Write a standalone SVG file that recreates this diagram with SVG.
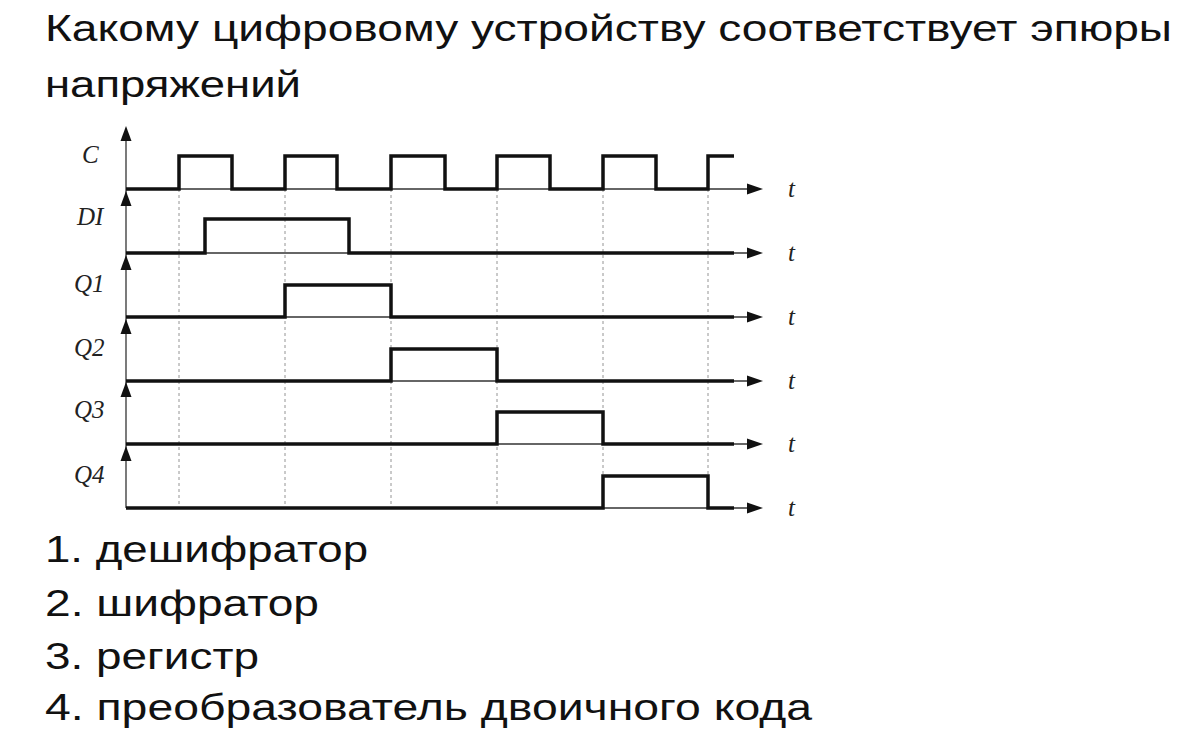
<svg xmlns="http://www.w3.org/2000/svg" width="1203" height="738" viewBox="0 0 1203 738">
<style>
.txt{font-family:"Liberation Sans",Arial,sans-serif;font-size:37px;fill:#111}
.lbl{font-family:"Liberation Serif","Times New Roman",serif;font-style:italic;font-size:25px;fill:#222}
.sig{fill:none;stroke:#111;stroke-width:3.5;stroke-linejoin:miter;stroke-linecap:butt}
.ax{fill:none;stroke:#333;stroke-width:1.3}
.dash{fill:none;stroke:#888;stroke-width:0.9;stroke-dasharray:3 3}
.ah{fill:#111}
</style>
<defs>
<polygon id="ahr" points="0,0 -16,-5.5 -16,5.5"/>
<polygon id="ahu" points="0,0 -5.5,15 5.5,15"/>
</defs>
<rect width="1203" height="738" fill="#fff"/>
<g id="title">
<text class="txt" x="45" y="41" textLength="1127" lengthAdjust="spacingAndGlyphs">Какому цифровому устройству соответствует эпюры</text>
<text class="txt" x="45" y="97" textLength="256" lengthAdjust="spacingAndGlyphs">напряжений</text>
</g>
<g id="grid">
<line class="dash" x1="179" y1="189" x2="179" y2="508"/>
<line class="dash" x1="285" y1="189" x2="285" y2="508"/>
<line class="dash" x1="391" y1="189" x2="391" y2="508"/>
<line class="dash" x1="497" y1="189" x2="497" y2="508"/>
<line class="dash" x1="603" y1="189" x2="603" y2="508"/>
<line class="dash" x1="708" y1="189" x2="708" y2="508"/>
</g>
<g id="axes">
<line class="ax" x1="126" y1="130" x2="126" y2="508"/>
<use href="#ahu" class="ah" x="126" y="126"/>
<use href="#ahu" class="ah" x="126" y="191"/>
<use href="#ahu" class="ah" x="126" y="255"/>
<use href="#ahu" class="ah" x="126" y="319"/>
<use href="#ahu" class="ah" x="126" y="382"/>
<use href="#ahu" class="ah" x="126" y="446"/>
<line class="ax" x1="126" y1="189" x2="752" y2="189"/>
<line class="ax" x1="126" y1="253" x2="752" y2="253"/>
<line class="ax" x1="126" y1="317" x2="752" y2="317"/>
<line class="ax" x1="126" y1="381" x2="752" y2="381"/>
<line class="ax" x1="126" y1="444" x2="752" y2="444"/>
<line class="ax" x1="126" y1="508" x2="752" y2="508"/>
<use href="#ahr" class="ah" x="763" y="189"/>
<use href="#ahr" class="ah" x="763" y="253"/>
<use href="#ahr" class="ah" x="763" y="317"/>
<use href="#ahr" class="ah" x="763" y="381"/>
<use href="#ahr" class="ah" x="763" y="444"/>
<use href="#ahr" class="ah" x="763" y="508"/>
</g>
<g id="signals">
<path class="sig" d="M126,189 H179 V156 H232 V189 H285 V156 H337 V189 H391 V156 H445 V189 H497 V156 H550 V189 H603 V156 H656 V189 H708 V156 H734"/>
<path class="sig" d="M126,253 H205 V219 H349 V253 H734"/>
<path class="sig" d="M126,317 H285 V285 H391 V317 H734"/>
<path class="sig" d="M126,381 H391 V349 H497 V381 H734"/>
<path class="sig" d="M126,444 H497 V412 H603 V444 H734"/>
<path class="sig" d="M126,508 H603 V476 H708 V508 H734"/>
</g>
<g id="labels">
<text class="lbl" x="82" y="163">C</text>
<text class="lbl" x="77" y="225">DI</text>
<text class="lbl" x="74" y="292">Q1</text>
<text class="lbl" x="74" y="356">Q2</text>
<text class="lbl" x="74" y="418">Q3</text>
<text class="lbl" x="74" y="483">Q4</text>
<text class="lbl" x="788" y="197">t</text>
<text class="lbl" x="788" y="261">t</text>
<text class="lbl" x="788" y="325">t</text>
<text class="lbl" x="788" y="389">t</text>
<text class="lbl" x="788" y="452">t</text>
<text class="lbl" x="788" y="516">t</text>
</g>
<g id="options">
<text class="txt" x="45" y="562" textLength="323" lengthAdjust="spacingAndGlyphs">1. дешифратор</text>
<text class="txt" x="45" y="616" textLength="274" lengthAdjust="spacingAndGlyphs">2. шифратор</text>
<text class="txt" x="45" y="669" textLength="214" lengthAdjust="spacingAndGlyphs">3. регистр</text>
<text class="txt" x="45" y="720" textLength="767" lengthAdjust="spacingAndGlyphs">4. преобразователь двоичного кода</text>
</g>
</svg>
